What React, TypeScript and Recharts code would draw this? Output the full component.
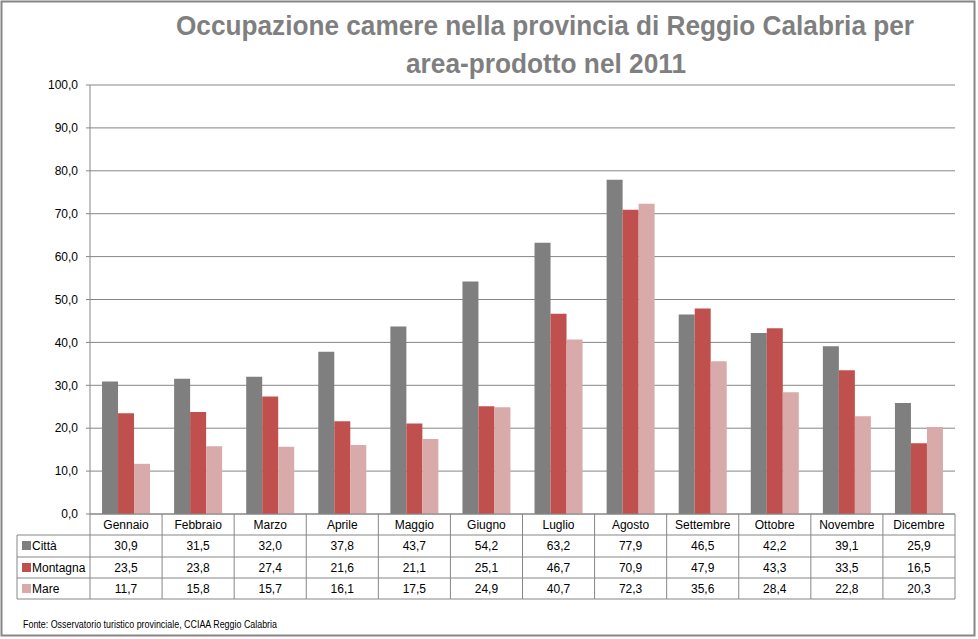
import React from "react";
import { BarChart, Bar, XAxis, YAxis, CartesianGrid } from "recharts";

const months = ["Gennaio", "Febbraio", "Marzo", "Aprile", "Maggio", "Giugno", "Luglio", "Agosto", "Settembre", "Ottobre", "Novembre", "Dicembre"];
const citta = [30.9, 31.5, 32.0, 37.8, 43.7, 54.2, 63.2, 77.9, 46.5, 42.2, 39.1, 25.9];
const montagna = [23.5, 23.8, 27.4, 21.6, 21.1, 25.1, 46.7, 70.9, 47.9, 43.3, 33.5, 16.5];
const mare = [11.7, 15.8, 15.7, 16.1, 17.5, 24.9, 40.7, 72.3, 35.6, 28.4, 22.8, 20.3];
const yTicks = [0, 10, 20, 30, 40, 50, 60, 70, 80, 90, 100];
const seriesNames = ["Città", "Montagna", "Mare"];
const seriesColors = ["#7f7f7f", "#c0504d", "#d9aaaa"];
const titleLines = ["Occupazione camere nella provincia di Reggio Calabria per", "area-prodotto nel 2011"];
const sourceNote = "Fonte: Osservatorio turistico provinciale, CCIAA Reggio Calabria";

const data = months.map((m, i) => ({ month: m, citta: citta[i], montagna: montagna[i], mare: mare[i] }));
const seriesValues = [citta, montagna, mare];

const FONT = "'Liberation Sans', Arial, sans-serif";
const LINE = "#868686";
const fmt = (v: number) => v.toFixed(1).replace(".", ",");

const rowLines = [21, 43, 64, 85];
const rowBaselines = [550 - 514, 572 - 514, 593 - 514];

const TableTick = (props: any) => {
  const { x, y, payload, index } = props;
  const half = payload && payload.offset ? payload.offset : 36;
  const left = x - half;
  const right = x + half;
  const legendLeft = 17;
  return (
    <g>
      {rowLines.map((r) => (
        <line key={"h" + r} x1={left} x2={right} y1={y + r} y2={y + r} stroke={LINE} strokeWidth={1} />
      ))}
      <line x1={right} x2={right} y1={y} y2={y + 85} stroke={LINE} strokeWidth={1} />
      <text x={x} y={y + 15} textAnchor="middle" fontSize={12} fontFamily={FONT} fill="#000">
        {payload.value}
      </text>
      {seriesValues.map((vals, si) => (
        <text key={"v" + si} x={x} y={y + rowBaselines[si]} textAnchor="middle" fontSize={12} fontFamily={FONT} fill="#000">
          {fmt(vals[index])}
        </text>
      ))}
      {index === 0 && (
        <g>
          <line x1={left} x2={left} y1={y} y2={y + 85} stroke={LINE} strokeWidth={1} />
          <line x1={legendLeft} x2={legendLeft} y1={y + 21} y2={y + 85} stroke={LINE} strokeWidth={1} />
          {rowLines.map((r) => (
            <line key={"lh" + r} x1={legendLeft} x2={left} y1={y + r} y2={y + r} stroke={LINE} strokeWidth={1} />
          ))}
          {seriesNames.map((n, si) => (
            <g key={"lg" + si}>
              <rect x={legendLeft + 5} y={y + rowBaselines[si] - 9} width={9} height={9} fill={seriesColors[si]} />
              <text x={legendLeft + 15} y={y + rowBaselines[si]} fontSize={12} fontFamily={FONT} fill="#000">
                {n}
              </text>
            </g>
          ))}
        </g>
      )}
    </g>
  );
};

export default function App() {
  return (
    <div style={{ position: "absolute", left: 0, top: 0, width: 978, height: 639, background: "#fff" }}>
      <BarChart
        width={978}
        height={639}
        data={data}
        margin={{ top: 85, right: 23, left: 10, bottom: 40 }}
        barCategoryGap="16.7%"
        barGap={0}
      >
        <CartesianGrid horizontal={true} vertical={false} stroke={LINE} strokeWidth={1} />
        <XAxis
          dataKey="month"
          height={85}
          tickSize={0}
          tickMargin={0}
          tickLine={false}
          axisLine={{ stroke: LINE, strokeWidth: 1 }}
          interval={0}
          tick={<TableTick />}
        />
        <YAxis
          width={80}
          domain={[0, 100]}
          ticks={yTicks}
          interval={0}
          tickFormatter={fmt}
          tickSize={4}
          tickMargin={8}
          axisLine={{ stroke: LINE, strokeWidth: 1 }}
          tickLine={{ stroke: LINE }}
          tick={{ fontSize: 12, fontFamily: FONT, fill: "#000" }}
        />
        <Bar dataKey="citta" name={seriesNames[0]} fill={seriesColors[0]} isAnimationActive={false} />
        <Bar dataKey="montagna" name={seriesNames[1]} fill={seriesColors[1]} isAnimationActive={false} />
        <Bar dataKey="mare" name={seriesNames[2]} fill={seriesColors[2]} isAnimationActive={false} />
      </BarChart>
      <svg width={978} height={639} style={{ position: "absolute", left: 0, top: 0, pointerEvents: "none" }}>
        <rect x={1.5} y={1.5} width={973} height={634} fill="none" stroke={LINE} strokeWidth={2} />
        <text x={176} y={35} fontSize={27} fontWeight="bold" fontFamily={FONT} fill="#7f7f7f" textLength={738} lengthAdjust="spacingAndGlyphs">
          {titleLines[0]}
        </text>
        <text x={406} y={73} fontSize={27} fontWeight="bold" fontFamily={FONT} fill="#7f7f7f" textLength={280} lengthAdjust="spacingAndGlyphs">
          {titleLines[1]}
        </text>
        <text x={23} y={628} fontSize={10} fontFamily={FONT} fill="#000" textLength={254} lengthAdjust="spacingAndGlyphs">
          {sourceNote}
        </text>
      </svg>
    </div>
  );
}
